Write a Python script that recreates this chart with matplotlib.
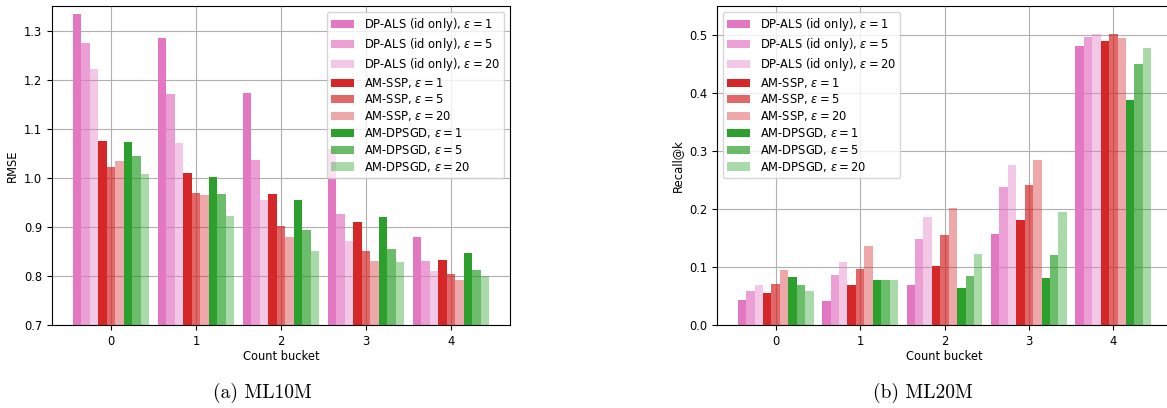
import numpy as np
import matplotlib
matplotlib.use("Agg")
import matplotlib.pyplot as plt

buckets = [0, 1, 2, 3, 4]
eps_values = [1, 5, 20]
methods = ["DP-ALS (id only)", "AM-SSP", "AM-DPSGD"]
method_colors = ["tab:pink", "tab:red", "tab:green"]
eps_alphas = [1.0, 0.7, 0.4]

# RMSE on ML10M, one list per (method, eps), values per bucket
rmse_ml10m = {
    ("DP-ALS (id only)", 1): [1.335, 1.286, 1.173, 1.060, 0.880],
    ("DP-ALS (id only)", 5): [1.275, 1.171, 1.037, 0.927, 0.831],
    ("DP-ALS (id only)", 20): [1.222, 1.071, 0.955, 0.871, 0.810],
    ("AM-SSP", 1): [1.076, 1.010, 0.967, 0.910, 0.833],
    ("AM-SSP", 5): [1.022, 0.969, 0.902, 0.851, 0.804],
    ("AM-SSP", 20): [1.035, 0.965, 0.880, 0.831, 0.792],
    ("AM-DPSGD", 1): [1.073, 1.002, 0.955, 0.920, 0.847],
    ("AM-DPSGD", 5): [1.045, 0.967, 0.894, 0.855, 0.812],
    ("AM-DPSGD", 20): [1.008, 0.922, 0.851, 0.829, 0.800],
}

# Recall@k on ML20M
recall_ml20m = {
    ("DP-ALS (id only)", 1): [0.043, 0.041, 0.069, 0.157, 0.482],
    ("DP-ALS (id only)", 5): [0.059, 0.086, 0.148, 0.238, 0.497],
    ("DP-ALS (id only)", 20): [0.069, 0.109, 0.186, 0.276, 0.502],
    ("AM-SSP", 1): [0.055, 0.069, 0.102, 0.181, 0.490],
    ("AM-SSP", 5): [0.071, 0.097, 0.155, 0.242, 0.502],
    ("AM-SSP", 20): [0.095, 0.136, 0.202, 0.285, 0.495],
    ("AM-DPSGD", 1): [0.083, 0.078, 0.064, 0.081, 0.388],
    ("AM-DPSGD", 5): [0.069, 0.078, 0.085, 0.121, 0.451],
    ("AM-DPSGD", 20): [0.059, 0.078, 0.123, 0.195, 0.478],
}

W, H = 1167, 408
fig = plt.figure(figsize=(W / 100, H / 100), dpi=100)
fs = 8.3


def draw(ax, data, ylabel, ylim, legend_loc):
    x = np.arange(len(buckets))
    width = 0.1
    k = 0
    for m, c in zip(methods, method_colors):
        for e, a in zip(eps_values, eps_alphas):
            off = (k - 4) * width
            ax.bar(x + off, data[(m, e)], width, color=c, alpha=a,
                   label=m + r", $\varepsilon = %d$" % e)
            k += 1
    ax.set_axisbelow(True)
    ax.grid(True)
    ax.set_xticks(x)
    ax.set_xticklabels([str(b) for b in buckets])
    ax.set_ylim(*ylim)
    ax.set_xlabel("Count bucket", fontsize=fs, labelpad=1.5)
    ax.set_ylabel(ylabel, fontsize=fs, labelpad=4)
    ax.tick_params(labelsize=fs)
    ax.legend(loc=legend_loc, fontsize=fs, labelspacing=0.24)


ax1 = fig.add_axes([52 / W, (H - 325) / H, 458 / W, 319 / H])
draw(ax1, rmse_ml10m, "RMSE", (0.7, 1.351), "upper right")
ax1.set_yticks([0.7, 0.8, 0.9, 1.0, 1.1, 1.2, 1.3])

ax2 = fig.add_axes([717 / W, (H - 325) / H, 455 / W, 319 / H])
draw(ax2, recall_ml20m, "Recall@k", (0.0, 0.5506), "upper left")
ax2.set_yticks([0.0, 0.1, 0.2, 0.3, 0.4, 0.5])

fig.text(262 / W, 1 - 393 / H, "(a) ML10M", ha="center", va="center",
         fontsize=14, family="cmr10")
fig.text(923 / W, 1 - 393 / H, "(b) ML20M", ha="center", va="center",
         fontsize=14, family="cmr10")

fig.savefig("out.png", dpi=100)
